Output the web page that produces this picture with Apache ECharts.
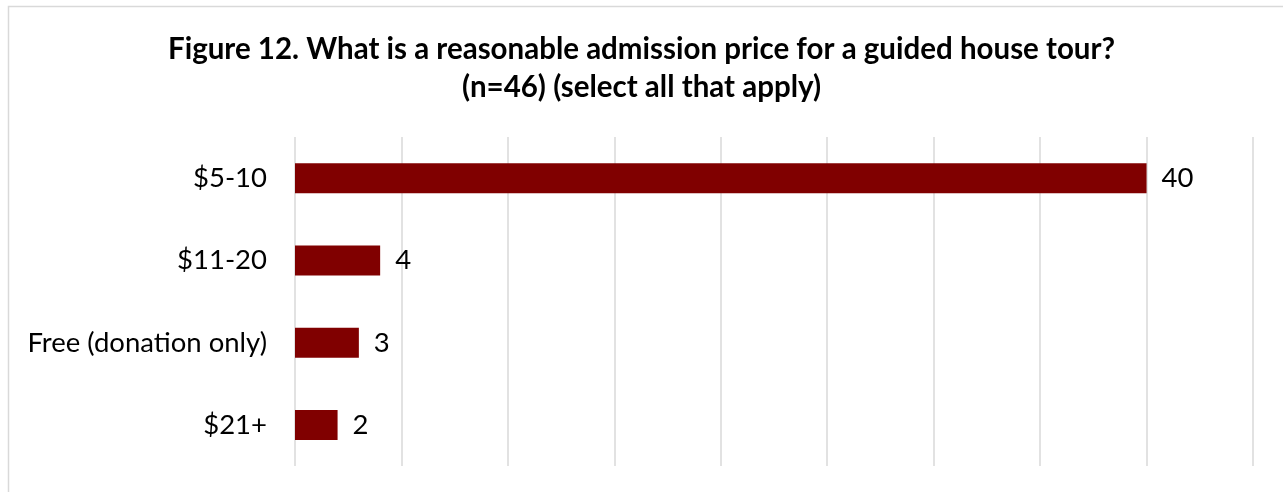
<!DOCTYPE html>
<html>
<head>
<meta charset="utf-8">
<script src="https://cdn.jsdelivr.net/npm/echarts@6/dist/echarts.min.js"></script>
<style>
  html, body { margin: 0; padding: 0; background: #fff; }
  #chart { width: 1283px; height: 492px; }
</style>
</head>
<body>
<div id="chart"></div>
<script>
// Admission price preferences (n=46, multiple answers allowed)
const categories = ['$5-10', '$11-20', 'Free (donation only)', '$21+'];
const counts = [40, 4, 3, 2];
const titleLines = [
  'Figure 12. What is a reasonable admission price for a guided house tour?',
  '(n=46) (select all that apply)'
];

const chart = echarts.init(document.getElementById('chart'));
const fontFamily = 'Lato, "Open Sans", sans-serif';

chart.setOption({
  animation: false,
  backgroundColor: '#ffffff',
  graphic: [{
    type: 'rect',
    shape: { x: 8.5, y: 6.5, width: 1400, height: 600 },
    style: { fill: 'none', stroke: '#d9d9d9', lineWidth: 1.5 },
    silent: true
  }],
  title: {
    text: titleLines.join('\n'),
    left: 'center',
    top: 25,
    textStyle: {
      fontFamily: fontFamily,
      fontWeight: 'bold',
      fontSize: 29.5,
      lineHeight: 38,
      color: '#000'
    }
  },
  grid: { left: 295, right: 30, top: 137, bottom: 26, containLabel: false },
  xAxis: {
    type: 'value',
    min: 0,
    max: 45,
    interval: 5,
    axisLabel: { show: false },
    axisLine: { show: false },
    axisTick: { show: false },
    splitLine: { show: true, lineStyle: { color: '#d9d9d9', width: 1.5 } }
  },
  yAxis: {
    type: 'category',
    data: categories,
    inverse: true,
    axisLine: { show: false },
    axisTick: { show: false },
    axisLabel: {
      margin: 28,
      fontFamily: fontFamily,
      fontSize: 27.5,
      color: '#000'
    }
  },
  series: [{
    type: 'bar',
    data: counts,
    barWidth: 30,
    itemStyle: { color: '#800000' },
    label: {
      show: true,
      position: 'right',
      distance: 15,
      fontFamily: fontFamily,
      fontSize: 27.5,
      color: '#000'
    }
  }]
});
</script>
</body>
</html>
